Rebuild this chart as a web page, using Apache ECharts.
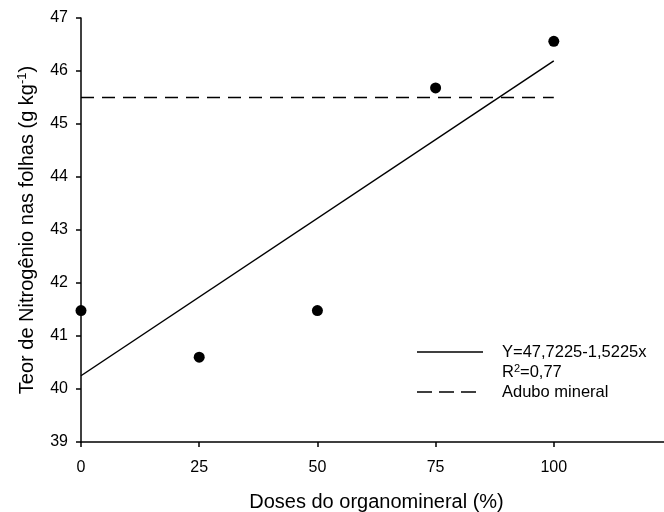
<!DOCTYPE html>
<html lang="pt">
<head>
    <meta charset="UTF-8">
    <title>Teor de Nitrogênio</title>
    <script src="https://cdn.jsdelivr.net/npm/echarts@6/dist/echarts.min.js"></script>
    <style>
        html, body { margin: 0; padding: 0; background: #fff; }
    </style>
</head>
<body>
<div id="main" style="width: 664px;height: 512px"></div>

<script>
    // dados
    var doses = [0, 25, 50, 75, 100];
    var teorN = [41.48, 40.6, 41.48, 45.68, 46.56];
    var regX = [0, 100];
    var regY = [40.25, 46.19];
    var aduboX = [0, 100];
    var aduboY = [45.5, 45.5];

    var font = 'Liberation Sans, Arial, sans-serif';

    function pairs(xs, ys) {
        return xs.map(function (x, i) { return [x, ys[i]]; });
    }

    var myChart = echarts.init(document.getElementById('main'));
    var option = {
        animation: false,
        backgroundColor: '#fff',
        grid: { left: 81, top: 18, width: 591, bottom: 70, outerBoundsMode: 'none', containLabel: false },
        xAxis: {
            type: 'value',
            min: 0,
            max: 125,
            interval: 25,
            name: 'Doses do organomineral (%)',
            nameLocation: 'middle',
            nameGap: 50,
            nameTextStyle: { fontFamily: font, fontSize: 20, color: '#000' },
            splitLine: { show: false },
            axisLine: { lineStyle: { color: '#000', width: 1.5 } },
            axisTick: { show: true, length: 5, lineStyle: { color: '#000', width: 1.5 } },
            axisLabel: {
                fontFamily: font, fontSize: 16, color: '#000', margin: 18,
                formatter: function (v) { return v <= 100 ? v : ''; }
            }
        },
        yAxis: {
            type: 'value',
            min: 39,
            max: 47,
            interval: 1,
            name: 'Teor de Nitrogênio nas folhas (g kg{sup|-1})',
            nameLocation: 'middle',
            nameGap: 43,
            nameTextStyle: {
                fontFamily: font, fontSize: 20, color: '#000',
                rich: { sup: { fontFamily: font, fontSize: 13, color: '#000', verticalAlign: 'top', padding: [0, 0, 9, 0] } }
            },
            splitLine: { show: false },
            axisLine: { lineStyle: { color: '#000', width: 1.5 } },
            axisTick: { show: true, length: 5, lineStyle: { color: '#000', width: 1.5 } },
            axisLabel: { fontFamily: font, fontSize: 16, color: '#000', margin: 13 }
        },
        series: [
            {
                name: 'Adubo mineral',
                type: 'line',
                data: pairs(aduboX, aduboY),
                symbol: 'none',
                lineStyle: { color: '#000', width: 1.5, type: [13, 8] },
                z: 2
            },
            {
                name: 'Regressão',
                type: 'line',
                data: pairs(regX, regY),
                symbol: 'none',
                lineStyle: { color: '#000', width: 1.5 },
                z: 2
            },
            {
                name: 'Teor N',
                type: 'scatter',
                data: pairs(doses, teorN),
                symbolSize: 11,
                itemStyle: { color: '#000', opacity: 1 },
                clip: false,
                z: 3
            }
        ],
        graphic: [
            { type: 'line', shape: { x1: 417, y1: 352, x2: 483, y2: 352 }, style: { stroke: '#000', lineWidth: 1.5 } },
            { type: 'text', style: { x: 502, y: 352, verticalAlign: 'middle', text: 'Y=47,7225-1,5225x', font: '16.5px ' + font, fill: '#000' } },
            {
                type: 'text',
                style: {
                    x: 502, y: 372, verticalAlign: 'middle',
                    text: 'R{sup|2}=0,77',
                    font: '16.5px ' + font, fill: '#000',
                    rich: { sup: { fontSize: 11, fontFamily: font, verticalAlign: 'top', padding: [0, 0, 7, 0] } }
                }
            },
            { type: 'line', shape: { x1: 417, y1: 392, x2: 483, y2: 392 }, style: { stroke: '#000', lineWidth: 1.5, lineDash: [15, 7] } },
            { type: 'text', style: { x: 502, y: 392, verticalAlign: 'middle', text: 'Adubo mineral', font: '16.5px ' + font, fill: '#000' } }
        ]
    };
    option && myChart.setOption(option);
</script>
</body>
</html>
